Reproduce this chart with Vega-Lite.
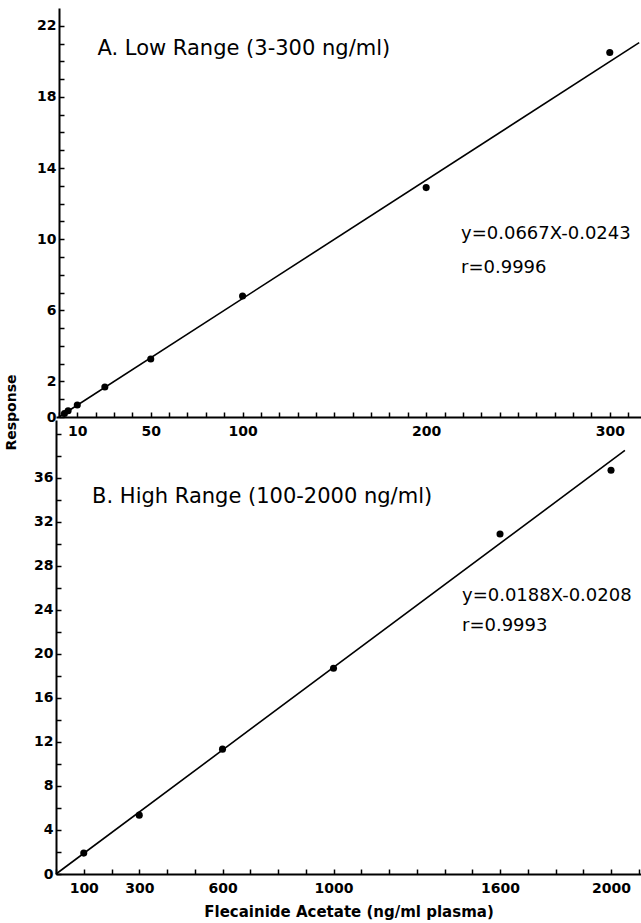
{
  "$schema": "https://vega.github.io/schema/vega-lite/v6.json",
  "padding": {"left": 4, "top": 8, "right": 0, "bottom": 4},
  "bounds": "flush",
  "spacing": 3,
  "background": "white",
  "config": {
    "view": {"stroke": null},
    "axis": {
      "grid": false,
      "domainColor": "black",
      "domainWidth": 2,
      "tickColor": "black",
      "tickWidth": 1.5,
      "tickSize": -5,
      "labelFont": "DejaVu Sans",
      "labelFontWeight": "bold",
      "labelFontSize": 14,
      "labelColor": "black",
      "labelOverlap": false,
      "labelFlush": false,
      "titleFont": "DejaVu Sans",
      "titleFontWeight": "bold",
      "titleFontSize": 15,
      "titleColor": "black"
    },
    "axisX": {"labelPadding": 12},
    "axisY": {"labelPadding": 8}
  },
  "datasets": {
    "low": [
      {"conc": 3, "response": 0.2},
      {"conc": 5, "response": 0.35},
      {"conc": 10, "response": 0.67},
      {"conc": 25, "response": 1.69},
      {"conc": 50, "response": 3.26},
      {"conc": 100, "response": 6.8},
      {"conc": 200, "response": 12.9},
      {"conc": 300, "response": 20.5}
    ],
    "lowFit": [
      {"conc": 0, "response": 0},
      {"conc": 316, "response": 21.05}
    ],
    "high": [
      {"conc": 100, "response": 1.9},
      {"conc": 300, "response": 5.35},
      {"conc": 600, "response": 11.35},
      {"conc": 1000, "response": 18.7},
      {"conc": 1600, "response": 30.9},
      {"conc": 2000, "response": 36.7}
    ],
    "highFit": [
      {"conc": 0, "response": 0},
      {"conc": 2050, "response": 38.5}
    ],
    "blank": [{}]
  },
  "vconcat": [
    {
      "width": 585,
      "height": 409,
      "layer": [
        {
          "data": {"name": "lowFit"},
          "mark": {"type": "line", "color": "black", "strokeWidth": 1.6},
          "encoding": {
            "x": {"field": "conc", "type": "quantitative", "scale": {"domain": [-1.6, 317], "nice": false, "zero": false},
              "axis": {"title": null, "format": "d", "values": [0,10,20,30,40,50,60,70,80,90,100,110,120,130,140,150,160,170,180,190,200,210,220,230,240,250,260,270,280,290,300,310], "labelExpr": "indexof([10,50,100,200,300], datum.value) >= 0 ? datum.label : ''"}},
            "y": {"field": "response", "type": "quantitative", "scale": {"domain": [0, 23], "nice": false},
              "axis": {"offset": -3, "format": "d", "values": [0,1,2,3,4,5,6,7,8,9,10,11,12,13,14,15,16,17,18,19,20,21,22], "labelExpr": "indexof([0,2,6,10,14,18,22], datum.value) >= 0 ? datum.label : ''", "title": "Response", "titleFontSize": 14, "titleAngle": -90, "titleAlign": "center", "titleBaseline": "middle", "titleX": -48, "titleY": 404}}
          }
        },
        {
          "data": {"name": "low"},
          "mark": {"type": "point", "filled": true, "color": "black", "size": 50, "opacity": 1},
          "encoding": {
            "x": {"field": "conc", "type": "quantitative", "scale": {"domain": [-1.6, 317], "nice": false, "zero": false},
              "axis": {"title": null, "format": "d", "values": [0,10,20,30,40,50,60,70,80,90,100,110,120,130,140,150,160,170,180,190,200,210,220,230,240,250,260,270,280,290,300,310], "labelExpr": "indexof([10,50,100,200,300], datum.value) >= 0 ? datum.label : ''"}},
            "y": {"field": "response", "type": "quantitative", "scale": {"domain": [0, 23], "nice": false},
              "axis": {"offset": -3, "format": "d", "values": [0,1,2,3,4,5,6,7,8,9,10,11,12,13,14,15,16,17,18,19,20,21,22], "labelExpr": "indexof([0,2,6,10,14,18,22], datum.value) >= 0 ? datum.label : ''", "title": "Response", "titleFontSize": 14, "titleAngle": -90, "titleAlign": "center", "titleBaseline": "middle", "titleX": -48, "titleY": 404}}
          }
        },
        {
          "data": {"name": "blank"},
          "mark": {"type": "text", "text": "A. Low Range (3-300 ng/ml)", "align": "left", "baseline": "middle", "font": "DejaVu Sans", "fontSize": 21, "color": "black"},
          "encoding": {
            "x": {"datum": 21, "type": "quantitative", "scale": {"domain": [-1.6, 317], "nice": false, "zero": false},
              "axis": {"title": null, "format": "d", "values": [0,10,20,30,40,50,60,70,80,90,100,110,120,130,140,150,160,170,180,190,200,210,220,230,240,250,260,270,280,290,300,310], "labelExpr": "indexof([10,50,100,200,300], datum.value) >= 0 ? datum.label : ''"}},
            "y": {"datum": 20.7, "type": "quantitative", "scale": {"domain": [0, 23], "nice": false},
              "axis": {"offset": -3, "format": "d", "values": [0,1,2,3,4,5,6,7,8,9,10,11,12,13,14,15,16,17,18,19,20,21,22], "labelExpr": "indexof([0,2,6,10,14,18,22], datum.value) >= 0 ? datum.label : ''", "title": "Response", "titleFontSize": 14, "titleAngle": -90, "titleAlign": "center", "titleBaseline": "middle", "titleX": -48, "titleY": 404}}
          }
        },
        {
          "data": {"name": "blank"},
          "mark": {"type": "text", "text": "y=0.0667X-0.0243", "align": "left", "baseline": "middle", "font": "DejaVu Sans", "fontSize": 18, "color": "black"},
          "encoding": {
            "x": {"datum": 219, "type": "quantitative", "scale": {"domain": [-1.6, 317], "nice": false, "zero": false},
              "axis": {"title": null, "format": "d", "values": [0,10,20,30,40,50,60,70,80,90,100,110,120,130,140,150,160,170,180,190,200,210,220,230,240,250,260,270,280,290,300,310], "labelExpr": "indexof([10,50,100,200,300], datum.value) >= 0 ? datum.label : ''"}},
            "y": {"datum": 10.3, "type": "quantitative", "scale": {"domain": [0, 23], "nice": false},
              "axis": {"offset": -3, "format": "d", "values": [0,1,2,3,4,5,6,7,8,9,10,11,12,13,14,15,16,17,18,19,20,21,22], "labelExpr": "indexof([0,2,6,10,14,18,22], datum.value) >= 0 ? datum.label : ''", "title": "Response", "titleFontSize": 14, "titleAngle": -90, "titleAlign": "center", "titleBaseline": "middle", "titleX": -48, "titleY": 404}}
          }
        },
        {
          "data": {"name": "blank"},
          "mark": {"type": "text", "text": "r=0.9996", "align": "left", "baseline": "middle", "font": "DejaVu Sans", "fontSize": 18, "color": "black"},
          "encoding": {
            "x": {"datum": 219, "type": "quantitative", "scale": {"domain": [-1.6, 317], "nice": false, "zero": false},
              "axis": {"title": null, "format": "d", "values": [0,10,20,30,40,50,60,70,80,90,100,110,120,130,140,150,160,170,180,190,200,210,220,230,240,250,260,270,280,290,300,310], "labelExpr": "indexof([10,50,100,200,300], datum.value) >= 0 ? datum.label : ''"}},
            "y": {"datum": 8.4, "type": "quantitative", "scale": {"domain": [0, 23], "nice": false},
              "axis": {"offset": -3, "format": "d", "values": [0,1,2,3,4,5,6,7,8,9,10,11,12,13,14,15,16,17,18,19,20,21,22], "labelExpr": "indexof([0,2,6,10,14,18,22], datum.value) >= 0 ? datum.label : ''", "title": "Response", "titleFontSize": 14, "titleAngle": -90, "titleAlign": "center", "titleBaseline": "middle", "titleX": -48, "titleY": 404}}
          }
        }
      ]
    },
    {
      "width": 585,
      "height": 454,
      "layer": [
        {
          "data": {"name": "highFit"},
          "mark": {"type": "line", "color": "black", "strokeWidth": 1.6},
          "encoding": {
            "x": {"field": "conc", "type": "quantitative", "scale": {"domain": [0, 2108], "nice": false},
              "axis": {"title": "Flecainide Acetate (ng/ml plasma)", "titlePadding": 9, "format": "d", "values": [0,100,200,300,400,500,600,700,800,900,1000,1100,1200,1300,1400,1500,1600,1700,1800,1900,2000,2100], "labelExpr": "indexof([100,300,600,1000,1600,2000], datum.value) >= 0 ? datum.label : ''"}},
            "y": {"field": "response", "type": "quantitative", "scale": {"domain": [0, 41.27], "nice": false},
              "axis": {"title": null, "format": "d", "values": [0,2,4,6,8,10,12,14,16,18,20,22,24,26,28,30,32,34,36,38,40], "labelExpr": "datum.value % 4 == 0 && datum.value < 40 ? datum.label : ''"}}
          }
        },
        {
          "data": {"name": "high"},
          "mark": {"type": "point", "filled": true, "color": "black", "size": 50, "opacity": 1},
          "encoding": {
            "x": {"field": "conc", "type": "quantitative", "scale": {"domain": [0, 2108], "nice": false},
              "axis": {"title": "Flecainide Acetate (ng/ml plasma)", "titlePadding": 9, "format": "d", "values": [0,100,200,300,400,500,600,700,800,900,1000,1100,1200,1300,1400,1500,1600,1700,1800,1900,2000,2100], "labelExpr": "indexof([100,300,600,1000,1600,2000], datum.value) >= 0 ? datum.label : ''"}},
            "y": {"field": "response", "type": "quantitative", "scale": {"domain": [0, 41.27], "nice": false},
              "axis": {"title": null, "format": "d", "values": [0,2,4,6,8,10,12,14,16,18,20,22,24,26,28,30,32,34,36,38,40], "labelExpr": "datum.value % 4 == 0 && datum.value < 40 ? datum.label : ''"}}
          }
        },
        {
          "data": {"name": "blank"},
          "mark": {"type": "text", "text": "B. High Range (100-2000 ng/ml)", "align": "left", "baseline": "middle", "font": "DejaVu Sans", "fontSize": 21, "color": "black"},
          "encoding": {
            "x": {"datum": 130, "type": "quantitative", "scale": {"domain": [0, 2108], "nice": false},
              "axis": {"title": "Flecainide Acetate (ng/ml plasma)", "titlePadding": 9, "format": "d", "values": [0,100,200,300,400,500,600,700,800,900,1000,1100,1200,1300,1400,1500,1600,1700,1800,1900,2000,2100], "labelExpr": "indexof([100,300,600,1000,1600,2000], datum.value) >= 0 ? datum.label : ''"}},
            "y": {"datum": 34.3, "type": "quantitative", "scale": {"domain": [0, 41.27], "nice": false},
              "axis": {"title": null, "format": "d", "values": [0,2,4,6,8,10,12,14,16,18,20,22,24,26,28,30,32,34,36,38,40], "labelExpr": "datum.value % 4 == 0 && datum.value < 40 ? datum.label : ''"}}
          }
        },
        {
          "data": {"name": "blank"},
          "mark": {"type": "text", "text": "y=0.0188X-0.0208", "align": "left", "baseline": "middle", "font": "DejaVu Sans", "fontSize": 18, "color": "black"},
          "encoding": {
            "x": {"datum": 1463, "type": "quantitative", "scale": {"domain": [0, 2108], "nice": false},
              "axis": {"title": "Flecainide Acetate (ng/ml plasma)", "titlePadding": 9, "format": "d", "values": [0,100,200,300,400,500,600,700,800,900,1000,1100,1200,1300,1400,1500,1600,1700,1800,1900,2000,2100], "labelExpr": "indexof([100,300,600,1000,1600,2000], datum.value) >= 0 ? datum.label : ''"}},
            "y": {"datum": 25.3, "type": "quantitative", "scale": {"domain": [0, 41.27], "nice": false},
              "axis": {"title": null, "format": "d", "values": [0,2,4,6,8,10,12,14,16,18,20,22,24,26,28,30,32,34,36,38,40], "labelExpr": "datum.value % 4 == 0 && datum.value < 40 ? datum.label : ''"}}
          }
        },
        {
          "data": {"name": "blank"},
          "mark": {"type": "text", "text": "r=0.9993", "align": "left", "baseline": "middle", "font": "DejaVu Sans", "fontSize": 18, "color": "black"},
          "encoding": {
            "x": {"datum": 1463, "type": "quantitative", "scale": {"domain": [0, 2108], "nice": false},
              "axis": {"title": "Flecainide Acetate (ng/ml plasma)", "titlePadding": 9, "format": "d", "values": [0,100,200,300,400,500,600,700,800,900,1000,1100,1200,1300,1400,1500,1600,1700,1800,1900,2000,2100], "labelExpr": "indexof([100,300,600,1000,1600,2000], datum.value) >= 0 ? datum.label : ''"}},
            "y": {"datum": 22.5, "type": "quantitative", "scale": {"domain": [0, 41.27], "nice": false},
              "axis": {"title": null, "format": "d", "values": [0,2,4,6,8,10,12,14,16,18,20,22,24,26,28,30,32,34,36,38,40], "labelExpr": "datum.value % 4 == 0 && datum.value < 40 ? datum.label : ''"}}
          }
        }
      ]
    }
  ]
}
